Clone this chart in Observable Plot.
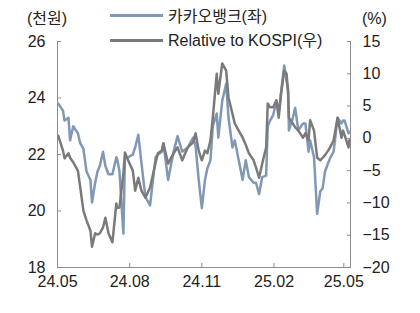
<!DOCTYPE html>
<html><head><meta charset="utf-8">
<script src="https://cdn.jsdelivr.net/npm/d3@7"></script>
<script src="https://cdn.jsdelivr.net/npm/@observablehq/plot@0.6"></script>
<style>
body{margin:0;background:#fff;}
#wrap{position:relative;width:420px;height:313px;font-family:"Liberation Sans","Noto Sans CJK KR",sans-serif;color:#222;font-size:16px;}
#wrap svg{position:absolute;left:0;top:0;}
.lab{position:absolute;line-height:20px;white-space:nowrap;}
.sw{position:absolute;height:3px;width:53px;}
</style></head><body><div id="wrap"></div>
<script>
const dates = ["2024-05-02","2024-05-08","2024-05-10","2024-05-15","2024-05-17","2024-05-21","2024-05-27","2024-05-30","2024-06-03","2024-06-07","2024-06-12","2024-06-14","2024-06-18","2024-06-21","2024-06-24","2024-06-28","2024-07-01","2024-07-05","2024-07-10","2024-07-15","2024-07-16","2024-07-19","2024-07-24","2024-07-26","2024-07-30","2024-08-05","2024-08-08","2024-08-12","2024-08-16","2024-08-21","2024-08-27","2024-09-03","2024-09-06","2024-09-11","2024-09-13","2024-09-19","2024-09-26","2024-10-01","2024-10-07","2024-10-14","2024-10-21","2024-10-24","2024-10-28","2024-11-01","2024-11-05","2024-11-08","2024-11-12","2024-11-15","2024-11-20","2024-11-22","2024-11-27","2024-12-02","2024-12-05","2024-12-10","2024-12-13","2024-12-18","2024-12-23","2024-12-27","2024-12-31","2025-01-06","2025-01-09","2025-01-13","2025-01-17","2025-01-22","2025-01-24","2025-01-27","2025-01-31","2025-02-04","2025-02-07","2025-02-10","2025-02-14","2025-02-17","2025-02-19","2025-02-20","2025-02-25","2025-02-28","2025-03-04","2025-03-10","2025-03-13","2025-03-17","2025-03-19","2025-03-24","2025-03-28","2025-04-01","2025-04-04","2025-04-07","2025-04-11","2025-04-14","2025-04-18","2025-04-23","2025-04-28","2025-04-30","2025-05-02","2025-05-07","2025-05-08"];
const bank = [23.8,23.55,23.2,23.3,22.5,23.0,22.75,22.4,22.2,21.4,21.1,20.3,21.0,21.4,21.6,22.1,21.6,21.3,21.3,21.9,21.85,21.4,19.2,21.9,21.9,22.0,22.25,22.7,21.7,20.5,20.2,21.9,22.0,22.1,22.4,21.1,22.1,22.65,22.1,22.25,22.6,22.3,21.1,20.1,21.1,21.5,21.8,23.0,23.45,22.6,23.9,24.5,23.3,22.25,22.5,21.8,21.1,21.8,21.2,21.0,21.0,20.6,21.2,21.25,23.0,23.2,23.4,23.9,23.5,24.2,25.15,24.6,24.3,22.85,23.3,23.65,22.85,23.1,23.1,22.1,22.5,21.9,19.9,20.7,20.8,21.4,21.7,21.9,22.1,23.3,23.1,23.2,23.2,22.75,22.8];
const relative = [0.4,-1.9,-3.1,-2.3,-3.0,-3.7,-5.0,-7.6,-11.2,-12.7,-14.3,-16.8,-14.7,-14.9,-14.7,-13.8,-12.3,-14.7,-16.1,-10.1,-10.8,-10.7,-5.4,-2.2,-3.4,-5.0,-8.1,-6.1,-8.1,-9.2,-7.6,-3.8,-2.3,-1.9,-0.8,-3.9,-2.3,-1.4,-3.4,-1.4,-0.6,0.8,-1.9,-3.4,-1.9,-2.3,-0.3,3.2,10.0,6.9,11.6,10.5,6.3,3.8,2.3,1.2,0.1,-1.0,-2.3,-3.4,-4.5,-6.1,-3.9,-1.4,5.4,4.8,4.8,5.9,3.2,6.9,10.5,10.0,6.9,3.2,2.3,1.7,1.2,0.1,0.8,-0.3,2.8,1.2,-3.0,-3.4,-3.0,-2.6,-1.9,-1.3,-0.3,3.2,0.1,1.2,0.5,-1.4,-0.3];
const leftTicks = [18,20,22,24,26];
const rightTicks = [-20,-15,-10,-5,0,5,10,15];
const xTicks = ["2024-05-01","2024-08-01","2024-11-01","2025-02-01","2025-05-01"];
const xTickLabels = ["24.05","24.08","24.11","25.02","25.05"];
const seriesNames = ["카카오뱅크(좌)","Relative to KOSPI(우)"];
const leftUnit = "(천원)", rightUnit = "(%)";
const leftDomain = [18,26], rightDomain = [-20,15];
const xDomain = [new Date("2024-05-01"), new Date("2025-05-09T12:00")];
const colors = ["#8198b5","#7a7a7a"];
const axisColor = "#8c8c8c";

const toLeft = p => leftDomain[0] + (p - rightDomain[0]) * (leftDomain[1]-leftDomain[0]) / (rightDomain[1]-rightDomain[0]);
const fromLeft = v => Math.round(rightDomain[0] + (v - leftDomain[0]) * (rightDomain[1]-rightDomain[0]) / (leftDomain[1]-leftDomain[0]));
const fmtNum = n => (n < 0 ? "\u2212" + Math.abs(n) : String(n));

const rows = dates.map((d,i) => ({date: new Date(d), bank: bank[i], rel: toLeft(relative[i])}));
const xt = xTicks.map(d => new Date(d));

const chart = Plot.plot({
  width: 420, height: 313,
  marginLeft: 57, marginRight: 70, marginTop: 41, marginBottom: 46,
  style: {fontFamily: '"Liberation Sans","Noto Sans CJK KR",sans-serif', fontSize: "16px", color: "#222", background: "#fff"},
  x: {type: "utc", domain: xDomain},
  y: {domain: leftDomain},
  marks: [
    Plot.ruleX([xDomain[0]], {stroke: axisColor}),
    Plot.ruleX([xDomain[1]], {stroke: axisColor}),
    Plot.ruleY([leftDomain[0]], {stroke: axisColor}),
    Plot.axisY(leftTicks, {anchor: "left", tickSize: -4, tickPadding: 16, stroke: axisColor, fill: "#222", fontSize: 16, label: null}),
    Plot.axisY(rightTicks.map(toLeft), {anchor: "right", tickSize: -4, tickPadding: 16, stroke: axisColor, fill: "#222", fontSize: 16, label: null, tickFormat: v => fmtNum(fromLeft(v))}),
    Plot.axisX(xt, {anchor: "bottom", tickSize: -4, tickPadding: 12, stroke: axisColor, fill: "#222", fontSize: 16, label: null, tickFormat: (d, i) => xTickLabels[xt.findIndex(t => +t === +d)]}),
    Plot.lineY(rows, {x: "date", y: "bank", stroke: colors[0], strokeWidth: 2.5}),
    Plot.lineY(rows, {x: "date", y: "rel", stroke: colors[1], strokeWidth: 2.5})
  ]
});
const wrap = document.getElementById("wrap");
wrap.appendChild(chart);
function lab(text, left, top) { const d = document.createElement("div"); d.className = "lab"; d.textContent = text; d.style.left = left + "px"; d.style.top = top + "px"; wrap.appendChild(d); }
function sw(color, left, top) { const d = document.createElement("div"); d.className = "sw"; d.style.background = color; d.style.left = left + "px"; d.style.top = top + "px"; wrap.appendChild(d); }
lab(leftUnit, 27, 9);
lab(rightUnit, 362, 9);
sw(colors[0], 110, 14); lab(seriesNames[0], 168, 7);
sw(colors[1], 110, 39); lab(seriesNames[1], 168, 31);
</script></body></html>
